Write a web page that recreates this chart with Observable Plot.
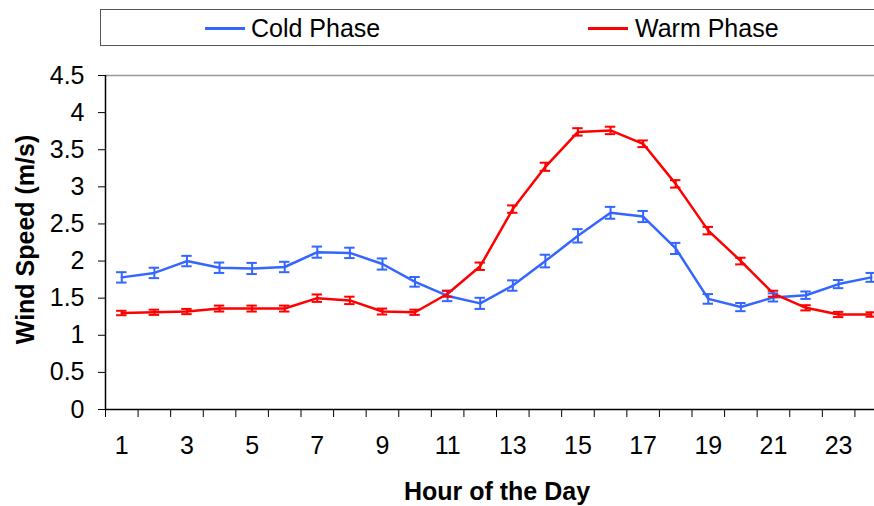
<!DOCTYPE html>
<html>
<head>
<meta charset="utf-8">
<script src="https://cdn.jsdelivr.net/npm/d3@7"></script>
<script src="https://cdn.jsdelivr.net/npm/@observablehq/plot@0.6"></script>
<style>
  html, body { margin: 0; padding: 0; background: #fff; overflow: hidden; width: 874px; height: 506px; }
  #legend { position: relative; height: 50px; width: 874px; overflow: hidden; font-family: "Liberation Sans", Arial, sans-serif; }
  #legend .box { position: absolute; left: 100px; top: 9px; width: 800px; height: 35px; border: 1.5px solid #555; }
  #legend .sw { position: absolute; width: 40px; height: 2.5px; top: 27px; }
  #legend .lab { position: absolute; top: 14px; font-size: 25px; line-height: 28px; color: #000; }
  #chart svg { display: block; }
</style>
</head>
<body>
<div id="legend"></div>
<div id="chart"></div>
<script>
const hours = [1,2,3,4,5,6,7,8,9,10,11,12,13,14,15,16,17,18,19,20,21,22,23,24];
const coldMean = [1.78,1.84,2.00,1.91,1.90,1.92,2.12,2.11,1.96,1.72,1.53,1.43,1.67,2.00,2.34,2.65,2.60,2.17,1.49,1.38,1.51,1.54,1.69,1.78];
const coldErr  = [0.07,0.07,0.07,0.07,0.075,0.07,0.075,0.07,0.075,0.065,0.07,0.075,0.07,0.085,0.09,0.08,0.075,0.075,0.065,0.055,0.055,0.05,0.055,0.06];
const warmMean = [1.30,1.31,1.32,1.36,1.36,1.36,1.50,1.47,1.32,1.31,1.56,1.93,2.70,3.27,3.74,3.76,3.58,3.04,2.41,2.00,1.56,1.37,1.28,1.28];
const warmErr  = [0.03,0.035,0.035,0.04,0.04,0.04,0.05,0.05,0.04,0.035,0.04,0.05,0.05,0.055,0.05,0.05,0.045,0.05,0.05,0.045,0.04,0.035,0.035,0.03];
const seriesNames = ["Cold Phase", "Warm Phase"];
const seriesColors = ["#3366FF", "#FF0000"];
const yTicks = [0,0.5,1,1.5,2,2.5,3,3.5,4,4.5];
const xTickLabels = [1,3,5,7,9,11,13,15,17,19,21,23];
const xBoundaries = [0.5,1.5,2.5,3.5,4.5,5.5,6.5,7.5,8.5,9.5,10.5,11.5,12.5,13.5,14.5,15.5,16.5,17.5,18.5,19.5,20.5,21.5,22.5,23.5,24.5];
const yTitle = "Wind Speed (m/s)";
const xTitle = "Hour of the Day";

const data = [];
hours.forEach((h, i) => {
  data.push({hour: h, value: coldMean[i], err: coldErr[i], series: seriesNames[0]});
});
hours.forEach((h, i) => {
  data.push({hour: h, value: warmMean[i], err: warmErr[i], series: seriesNames[1]});
});

// legend
const legend = document.getElementById("legend");
const box = document.createElement("div"); box.className = "box"; legend.appendChild(box);
const legendX = [[205, 251], [588, 635]];
seriesNames.forEach((name, i) => {
  const sw = document.createElement("div"); sw.className = "sw";
  sw.style.left = legendX[i][0] + "px"; sw.style.background = seriesColors[i];
  legend.appendChild(sw);
  const lab = document.createElement("div"); lab.className = "lab";
  lab.style.left = legendX[i][1] + "px"; lab.textContent = name;
  legend.appendChild(lab);
});

const capHalf = 0.16;
const plot = Plot.plot({
  width: 874,
  height: 456,
  marginTop: 25,
  marginBottom: 97,
  marginLeft: 105,
  marginRight: 0,
  style: {fontFamily: "'Liberation Sans', Arial, sans-serif", color: "#000", background: "#fff", overflow: "hidden"},
  x: {domain: [0.5, 24.5], range: [105, 887]},
  y: {domain: [0, 4.5]},
  color: {domain: seriesNames, range: seriesColors},
  marks: [
    Plot.ruleY([4.5], {stroke: "#999", strokeWidth: 1.5}),
    Plot.axisY({ticks: yTicks, tickSize: 7, tickPadding: 14, fontSize: 25, tickFormat: d => String(d), label: null, stroke: "#000", strokeOpacity: 1}),
    Plot.axisX({ticks: xBoundaries, tickSize: 8, tickFormat: () => "", label: null, stroke: "#000", strokeOpacity: 1}),
    Plot.axisX({ticks: xTickLabels, tickSize: 0, tickPadding: 27, fontSize: 25, tickFormat: d => String(d), label: null}),
    Plot.ruleX([0.5], {y1: 0, y2: 4.5, stroke: "#000", strokeWidth: 1.5}),
    Plot.ruleY([0], {stroke: "#000", strokeWidth: 1.5}),
    Plot.line(data, {x: "hour", y: "value", z: "series", stroke: "series", strokeWidth: 2.5}),
    Plot.ruleX(data, {x: "hour", y1: d => d.value - d.err, y2: d => d.value + d.err, stroke: "series", strokeWidth: 2}),
    Plot.ruleY(data, {y: d => d.value - d.err, x1: d => d.hour - capHalf, x2: d => d.hour + capHalf, stroke: "series", strokeWidth: 2}),
    Plot.ruleY(data, {y: d => d.value + d.err, x1: d => d.hour - capHalf, x2: d => d.hour + capHalf, stroke: "series", strokeWidth: 2}),
    Plot.text([yTitle], {frameAnchor: "left", textAnchor: "middle", lineAnchor: "middle", rotate: -90, dx: -80, dy: -3, fontSize: 25, fontWeight: "bold", fill: "#000"}),
    Plot.text([xTitle], {frameAnchor: "bottom", textAnchor: "middle", lineAnchor: "middle", dx: 7, dy: 82, fontSize: 25, fontWeight: "bold", fill: "#000"})
  ]
});
document.getElementById("chart").appendChild(plot);
</script>
</body>
</html>
